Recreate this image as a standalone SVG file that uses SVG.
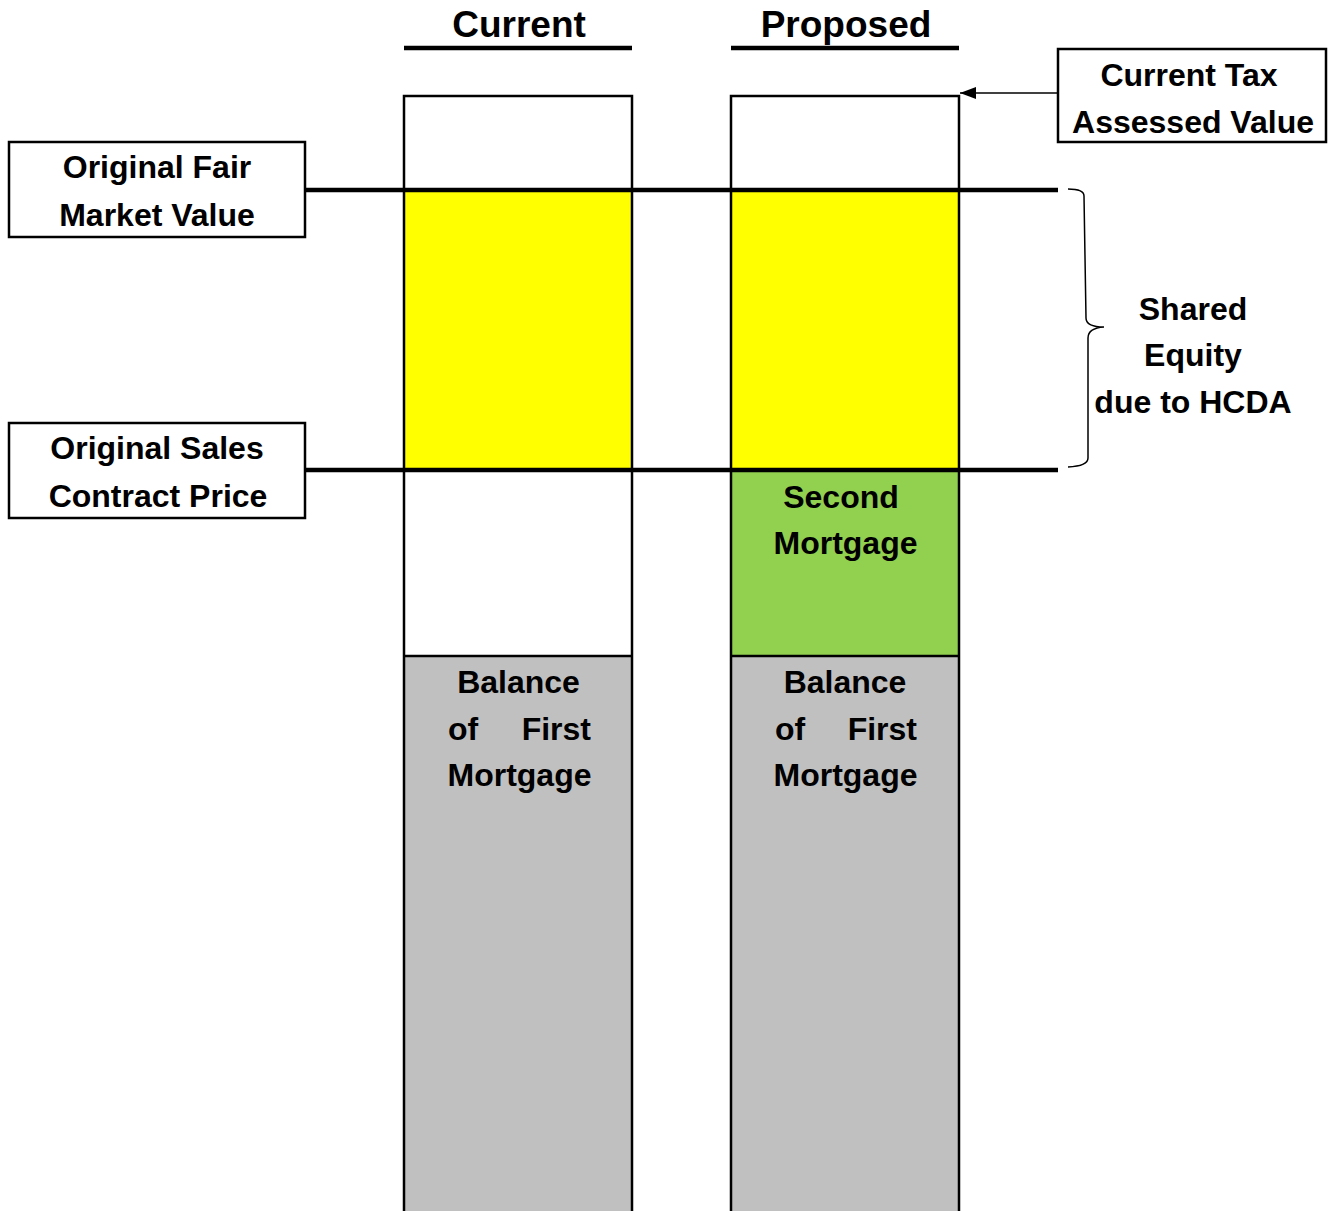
<svg xmlns="http://www.w3.org/2000/svg" width="1330" height="1211" viewBox="0 0 1330 1211">
  <style>
    text { font-family: "Liberation Sans", Arial, sans-serif; font-weight: bold; fill: #000; }
    .lbl { font-size: 32px; text-anchor: middle; }
    .head { font-size: 37px; text-anchor: middle; }
    .box { fill: #fff; stroke: #000; stroke-width: 2.5; }
    .col { stroke: #000; stroke-width: 2.5; }
    .rule { stroke: #000; stroke-width: 4.5; }
  </style>
  <defs>
    <marker id="arrow" viewBox="0 0 16 12" refX="16" refY="6" markerWidth="16" markerHeight="12" markerUnits="userSpaceOnUse" orient="auto">
      <path d="M0,0 L16,6 L0,12 z" fill="#000"/>
    </marker>
  </defs>

  <rect width="1330" height="1211" fill="#fff"/>

  <!-- Column headings -->
  <g id="heading-current">
    <text class="head" x="519" y="37">Current</text>
    <line class="rule" x1="404" y1="48" x2="632" y2="48"/>
  </g>
  <g id="heading-proposed">
    <text class="head" x="846" y="37">Proposed</text>
    <line class="rule" x1="731" y1="48" x2="959" y2="48"/>
  </g>

  <!-- Current column -->
  <g id="col-current">
    <rect x="404" y="96" width="228" height="94" fill="#fff"/>
    <rect x="404" y="190" width="228" height="280" fill="#ffff00"/>
    <rect x="404" y="470" width="228" height="186" fill="#fff"/>
    <rect x="404" y="656" width="228" height="560" fill="#c0c0c0"/>
    <path class="col" fill="none" d="M404,1212 V96 H632 V1212"/>
    <line class="col" x1="404" y1="656" x2="632" y2="656"/>
    <text class="lbl" x="518.5" y="693">Balance</text>
    <text class="lbl" x="448" y="740" style="text-anchor:start">of</text>
    <text class="lbl" x="591" y="740" style="text-anchor:end">First</text>
    <text class="lbl" x="519.5" y="786">Mortgage</text>
  </g>

  <!-- Proposed column -->
  <g id="col-proposed">
    <rect x="731" y="96" width="228" height="94" fill="#fff"/>
    <rect x="731" y="190" width="228" height="280" fill="#ffff00"/>
    <rect x="731" y="470" width="228" height="186" fill="#92d050"/>
    <rect x="731" y="656" width="228" height="560" fill="#c0c0c0"/>
    <path class="col" fill="none" d="M731,1212 V96 H959 V1212"/>
    <line class="col" x1="731" y1="656" x2="959" y2="656"/>
    <text class="lbl" x="841" y="508">Second</text>
    <text class="lbl" x="845.5" y="554">Mortgage</text>
    <text class="lbl" x="845" y="693">Balance</text>
    <text class="lbl" x="775" y="740" style="text-anchor:start">of</text>
    <text class="lbl" x="917" y="740" style="text-anchor:end">First</text>
    <text class="lbl" x="845.5" y="786">Mortgage</text>
  </g>

  <!-- Level lines, pointer arrow and brace -->
  <g id="connectors">
    <line class="rule" x1="306" y1="190" x2="1058" y2="190"/>
    <line class="rule" x1="306" y1="470" x2="1058" y2="470"/>
    <line x1="1058" y1="93" x2="960" y2="93" stroke="#000" stroke-width="1.5" marker-end="url(#arrow)"/>
    <path d="M1068,189 Q1084,189 1084,196 L1086,318 Q1086,327 1104,327 Q1088,328 1088,338 L1088,458 Q1088,466 1068,467" fill="none" stroke="#000" stroke-width="1.5"/>
  </g>

  <!-- Side labels -->
  <g id="label-fair-market">
    <rect class="box" x="9" y="142" width="296" height="95"/>
    <text class="lbl" x="157" y="178">Original Fair</text>
    <text class="lbl" x="157" y="226">Market Value</text>
  </g>
  <g id="label-sales-price">
    <rect class="box" x="9" y="423" width="296" height="95"/>
    <text class="lbl" x="157" y="459">Original Sales</text>
    <text class="lbl" x="158" y="507">Contract Price</text>
  </g>
  <g id="label-tax-value">
    <rect class="box" x="1058" y="49" width="268" height="93"/>
    <text class="lbl" x="1189" y="86">Current Tax</text>
    <text class="lbl" x="1193" y="133">Assessed Value</text>
  </g>
  <g id="label-shared-equity">
    <text class="lbl" x="1193" y="320">Shared</text>
    <text class="lbl" x="1193" y="366">Equity</text>
    <text class="lbl" x="1193" y="413">due to HCDA</text>
  </g>
</svg>
